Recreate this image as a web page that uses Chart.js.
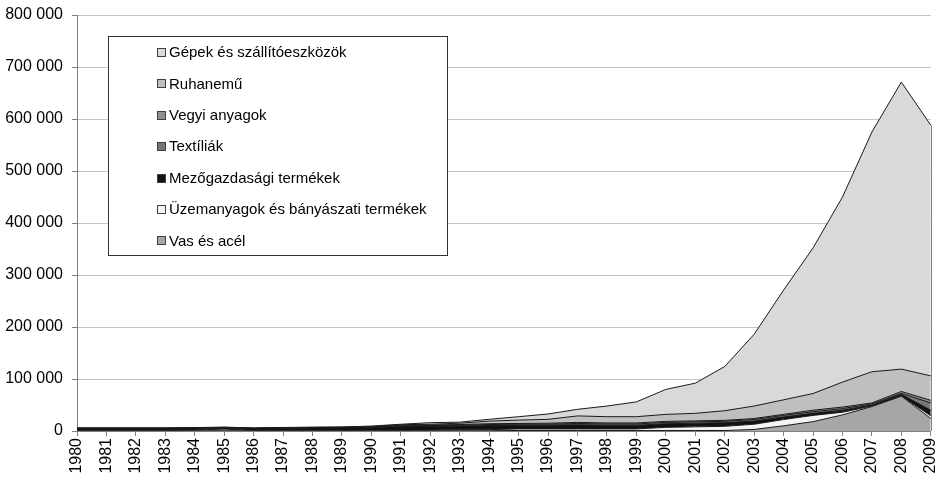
<!DOCTYPE html>
<html>
<head>
<meta charset="utf-8">
<script src="https://cdn.jsdelivr.net/npm/chart.js@4/dist/chart.umd.min.js"></script>
<style>
  html, body { margin: 0; padding: 0; background: #fff; }
  #chart { display: block; }
</style>
</head>
<body>
<canvas id="chart" width="952" height="480"></canvas>
<script>
'use strict';

const years = ['1980','1981','1982','1983','1984','1985','1986','1987','1988','1989',
    '1990','1991','1992','1993','1994','1995','1996','1997','1998','1999',
    '2000','2001','2002','2003','2004','2005','2006','2007','2008','2009'];

// series, bottom of the stack first
const vasEsAcel = [500,500,500,500,500,500,500,500,500,500,
    500,500,500,500,500,1000,1000,1000,1000,1000,
    1000,1000,1000,3000,10000,18000,31000,47000,67000,24000];
const uzemanyagok = [1000,1000,1000,1000,1500,3000,1000,1000,1000,1000,
    1000,1000,1500,2000,2000,3000,3000,3000,3000,3000,
    6000,7000,8000,10000,12000,12000,5000,1000,500,5000];
const mezogazdasagi = [3000,3000,3000,3000,3000,2500,3000,4000,4500,4500,
    5000,7000,7000,7000,8000,7000,7000,8000,7000,7000,
    7000,7000,7000,6000,5000,4000,4000,2000,3000,11000];
const textiliak = [500,500,500,500,500,500,400,500,500,500,
    1000,1500,1500,1500,2000,2000,2000,2500,2500,2500,
    2500,2500,2500,3000,3000,3000,3000,2000,2000,14000];
const vegyiAnyagok = [300,300,300,300,300,300,300,300,300,500,
    500,1000,1000,1500,1500,1500,2000,2000,2000,2000,
    2000,2000,2000,2000,2000,3000,3000,2000,3500,5000];
const ruhanemu = [200,200,200,200,200,200,200,200,200,300,
    500,1000,1500,2500,5000,6500,7400,12500,12000,12000,
    13500,14500,18500,24000,28000,32000,48000,60000,43000,47000];
const gepek = [500,500,500,500,500,500,400,300,300,400,
    1000,1000,3000,2000,3500,6500,10300,12700,20500,28500,
    48000,58000,85000,138000,211000,280000,356000,461000,552000,482000];

const seriesNames = ['Vas és acél', 'Üzemanyagok és bányászati termékek', 'Mezőgazdasági termékek',
    'Textíliák', 'Vegyi anyagok', 'Ruhanemű', 'Gépek és szállítóeszközök'];
const seriesData = [vasEsAcel, uzemanyagok, mezogazdasagi, textiliak, vegyiAnyagok, ruhanemu, gepek];
const seriesColors = ['#a6a6a6', '#f4f4f4', '#111111', '#777777', '#909090', '#bfbfbf', '#d9d9d9'];

const FONT = "'Liberation Sans', Arial, sans-serif";

function spaced(v){
    return String(v).replace(/\B(?=(\d{3})+(?!\d))/g, ' ');
}

// boxed legend drawn inside the plot, top entry = top of the stack
const boxLegend = {
    id: 'boxLegend',
    afterDraw(chart){
        const ctx = chart.ctx;
        const sets = chart.data.datasets.slice().reverse();
        ctx.save();
        ctx.fillStyle = '#fff';
        ctx.fillRect(108, 36, 339, 219);
        ctx.strokeStyle = '#333';
        ctx.lineWidth = 1;
        ctx.strokeRect(108.5, 36.5, 339, 219);
        ctx.font = '15px ' + FONT;
        ctx.textBaseline = 'middle';
        sets.forEach((ds, i) => {
            const y = 52 + i * 31.4;
            ctx.fillStyle = ds.backgroundColor;
            ctx.fillRect(157, Math.round(y) - 4, 9, 9);
            ctx.strokeStyle = '#404040';
            ctx.strokeRect(157.5, Math.round(y) - 3.5, 8, 8);
            ctx.fillStyle = '#000';
            ctx.fillText(ds.label, 169, y + 1);
        });
        ctx.restore();
    }
};

// Excel-style drop line at the right end of the top area
const edgeLine = {
    id: 'edgeLine',
    afterDatasetsDraw(chart){
        const x = chart.scales.x;
        const y = chart.scales.y;
        const last = years.length - 1;
        let top = 0;
        seriesData.forEach(s => { top += s[last]; });
        const px = Math.round(x.getPixelForValue(last)) + 0.5;
        const ctx = chart.ctx;
        ctx.save();
        ctx.strokeStyle = '#808080';
        ctx.lineWidth = 1;
        ctx.beginPath();
        ctx.moveTo(px, y.getPixelForValue(top));
        ctx.lineTo(px, y.getPixelForValue(0));
        ctx.stroke();
        ctx.restore();
    }
};

const ctx = document.getElementById('chart').getContext('2d');
new Chart(ctx, {
    type: 'line',
    data: {
        labels: years,
        datasets: seriesData.map((values, i) => ({
            label: seriesNames[i],
            data: values,
            backgroundColor: seriesColors[i],
            borderColor: '#1a1a1a',
            borderWidth: 1,
            pointRadius: 0,
            tension: 0,
            fill: i === 0 ? 'origin' : '-1'
        }))
    },
    options: {
        responsive: false,
        animation: false,
        maintainAspectRatio: false,
        layout: { padding: { top: 15, right: 11, left: 0, bottom: 0 } },
        plugins: {
            legend: { display: false },
            tooltip: { enabled: false }
        },
        scales: {
            x: {
                offset: false,
                grid: { drawOnChartArea: false, tickLength: 5, color: '#808080' },
                border: { color: '#808080' },
                ticks: {
                    autoSkip: false, minRotation: 90, maxRotation: 90, padding: 2,
                    color: '#000', font: { family: FONT, size: 16 }
                },
                afterFit: s => { s.height = 49; }
            },
            y: {
                stacked: true,
                min: 0,
                max: 800000,
                grid: { color: '#c4c4c4', tickLength: 5, tickColor: '#808080' },
                border: { color: '#808080' },
                ticks: {
                    stepSize: 100000, padding: 9, color: '#000',
                    font: { family: FONT, size: 16 },
                    callback: v => spaced(v)
                },
                afterFit: s => { s.width = 77; s.paddingTop = 2; s.paddingBottom = 2; }
            }
        }
    },
    plugins: [edgeLine, boxLegend]
});
</script>
</body>
</html>
